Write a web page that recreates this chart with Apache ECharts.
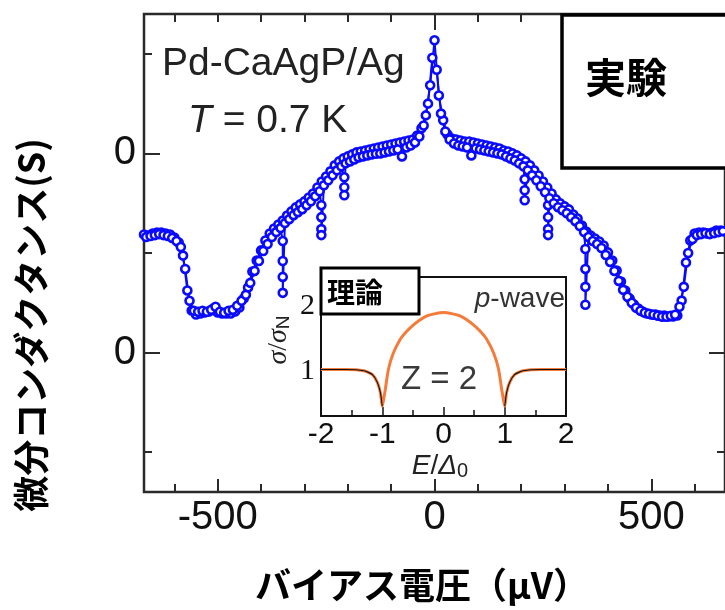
<!DOCTYPE html>
<html><head><meta charset="utf-8">
<script src="https://cdn.jsdelivr.net/npm/echarts@6/dist/echarts.min.js"></script>
<style>html,body{margin:0;padding:0;background:#fff}#c{width:725px;height:610px}</style>
</head><body><div id="c"></div>
<script>
// ---- main measurement: bias voltage (µV) vs differential conductance ----
const biasA = [-670,-660,-650,-640,-630,-620,-610,-600,-590,-580,-570,-560,-550,-540,-530,-520,-510,-500,-490,-480,-470,-460,-450,-440,-430,-420,-410,-400,-390,-380,-370,-360,-350,-340,-330,-320,-310,-300,-290,-280,-270,-260,-250,-240,-230,-220,-210,-200,-190,-180,-170,-160,-150,-140,-130,-120,-110,-100,-90,-80,-70,-60,-50,-40,-30,-20,-10,0,10,20,30,40,50,60,70,80,90,100,110,120,130,140,150,160,170,180,190,200,210,220,230,240,250,260,270,280,290,300,310,320,330,340,350,360,370,380,390,400,410,420,430,440,450,460,470,480,490,500,510,520,530,540,550,560,570,580,590,600,610,620,630,640,650,660,670];
const condA = [1.593,1.588,1.598,1.603,1.603,1.598,1.593,1.578,1.553,1.487,1.312,1.211,1.191,1.196,1.201,1.206,1.221,1.201,1.196,1.196,1.196,1.206,1.226,1.271,1.327,1.407,1.462,1.513,1.563,1.598,1.623,1.643,1.663,1.688,1.709,1.729,1.744,1.759,1.779,1.799,1.829,1.859,1.884,1.910,1.940,1.960,1.975,1.985,1.995,2.005,2.010,2.015,2.020,2.025,2.030,2.035,2.040,2.045,2.050,2.055,2.060,2.065,2.070,2.090,2.126,2.191,2.342,2.568,2.291,2.166,2.095,2.075,2.070,2.065,2.060,2.060,2.055,2.050,2.045,2.040,2.035,2.030,2.025,2.015,2.010,2.000,1.990,1.975,1.960,1.940,1.915,1.889,1.859,1.829,1.799,1.769,1.749,1.734,1.719,1.693,1.673,1.638,1.608,1.588,1.573,1.558,1.538,1.503,1.462,1.412,1.357,1.312,1.271,1.241,1.221,1.206,1.196,1.191,1.191,1.186,1.186,1.181,1.181,1.186,1.261,1.452,1.563,1.598,1.603,1.603,1.598,1.603,1.613,1.613,1.608];
const biasB = [-665,-655,-645,-635,-625,-615,-605,-595,-585,-575,-565,-555,-545,-535,-525,-515,-505,-495,-485,-475,-465,-455,-445,-435,-425,-415,-405,-395,-385,-375,-365,-355,-350,-350,-350,-350,-345,-335,-325,-315,-305,-295,-285,-275,-265,-261,-261,-261,-261,-255,-245,-235,-225,-215,-208,-208,-208,-205,-195,-185,-175,-165,-155,-145,-135,-125,-115,-105,-95,-85,-75,-65,-55,-45,-35,-25,-15,-5,5,15,25,35,45,55,65,75,85,95,105,115,125,135,145,155,165,175,185,195,205,208,208,208,215,225,235,245,255,262,262,262,262,265,275,285,295,305,315,325,335,345,348,348,348,348,355,365,375,385,395,405,415,425,435,445,455,465,475,485,495,505,515,525,535,545,555,565,575,585,595,605,615,625,635,645,655,665];
const condB = [1.580,1.585,1.590,1.595,1.590,1.585,1.575,1.560,1.530,1.420,1.260,1.210,1.205,1.210,1.205,1.215,1.230,1.205,1.200,1.210,1.215,1.235,1.260,1.290,1.350,1.410,1.460,1.510,1.545,1.580,1.605,1.625,1.560,1.460,1.380,1.300,1.650,1.670,1.690,1.705,1.720,1.740,1.760,1.785,1.810,1.740,1.680,1.620,1.590,1.840,1.865,1.890,1.915,1.935,1.880,1.830,1.790,1.950,1.960,1.970,1.980,1.985,1.990,1.995,1.998,2.000,2.005,2.010,2.015,2.020,1.985,2.030,2.040,2.055,2.085,2.140,2.250,2.480,2.420,2.200,2.110,2.070,2.050,2.040,2.035,2.030,1.990,2.025,2.020,2.015,2.010,2.005,2.000,1.995,1.985,1.975,1.965,1.950,1.935,1.870,1.815,1.765,1.915,1.890,1.865,1.835,1.805,1.740,1.680,1.620,1.590,1.775,1.750,1.730,1.715,1.700,1.680,1.660,1.635,1.605,1.520,1.420,1.330,1.240,1.580,1.560,1.545,1.525,1.490,1.455,1.410,1.360,1.315,1.280,1.250,1.225,1.210,1.200,1.195,1.190,1.185,1.180,1.180,1.185,1.190,1.230,1.330,1.500,1.570,1.590,1.595,1.600,1.595,1.600,1.605,1.610];

// ---- inset: theory, p-wave, Z = 2 ----
const insetE = [-2,-1.6,-1.3,-1.16,-1.08,-1.03,-1.0,-0.97,-0.95,-0.9,-0.82,-0.71,-0.6,-0.49,-0.38,-0.27,-0.15,0,0.15,0.27,0.38,0.49,0.6,0.71,0.82,0.9,0.95,0.97,1.0,1.03,1.08,1.16,1.3,1.6,2];
const insetSigma = [1.02,1.02,1.0,0.94,0.82,0.66,0.45,0.6,0.71,1.02,1.27,1.48,1.61,1.71,1.79,1.85,1.88,1.90,1.88,1.85,1.79,1.71,1.61,1.48,1.27,1.02,0.71,0.6,0.45,0.66,0.82,0.94,1.0,1.02,1.02];

// ---- ticks & labels ----
const xMajorTicks = [-500, 0, 500];
const xMinorTicks = [-600,-400,-300,-200,-100,100,200,300,400,600];
const xTopMajor = [0];
const xTopMinor = [-600,-500,-400,-300,-200,-100,100,200,300,400,500,600];
const yMajorTicks = [1, 2];
const yMinorTicks = [0.5, 1.5, 2.5];
const yTickText = ['0', '0'];
const insetXTicks = [-2,-1,0,1,2];
const insetXMinor = [-1.5,-0.5,0.5,1.5];
const insetYTicks = [1, 2];

const BLUE = '#0a0aff';
const ORANGE = '#f47b3a';
const AX = '#2a2a2a';
const SANS = '"Liberation Sans", Arial, sans-serif';
const SERIF = '"Liberation Serif", "Times New Roman", serif';
const CJK = '"Noto Sans CJK JP", sans-serif';

const zip = (xs, ys) => xs.map((x, i) => [x, ys[i]]);
const chart = echarts.init(document.getElementById('c'), null, {renderer: 'canvas'});

function tickAxis(extra) {
  return Object.assign({
    type: 'value', splitLine: {show: false},
    axisLine: {show: false, onZero: false},
    axisLabel: {show: false}
  }, extra);
}

const insetData = zip(insetE, insetSigma);
const insetOuter = insetData.map(p => (Math.abs(p[0]) >= 1 ? p : [p[0], null]));

chart.setOption({
  animation: false,
  backgroundColor: '#fff',
  grid: [
    {left: 144, top: 14, width: 586, height: 478, show: true, borderColor: AX, borderWidth: 2.5, backgroundColor: 'transparent'},
    {left: 321, top: 277, width: 245, height: 139, show: true, borderColor: '#111', borderWidth: 2, backgroundColor: '#fff'}
  ],
  xAxis: [
    tickAxis({gridIndex: 0, position: 'bottom', min: -670, max: 670,
      axisTick: {inside: true, length: 13, customValues: xMajorTicks, lineStyle: {color: AX, width: 2}},
      axisLabel: {show: true, customValues: xMajorTicks, fontSize: 40, fontFamily: SANS, color: '#111', margin: 6}}),
    tickAxis({gridIndex: 0, position: 'bottom', min: -670, max: 670,
      axisTick: {inside: true, length: 8, customValues: xMinorTicks, lineStyle: {color: AX, width: 2}}}),
    tickAxis({gridIndex: 0, position: 'top', min: -670, max: 670,
      axisTick: {inside: true, length: 16, customValues: xTopMajor, lineStyle: {color: AX, width: 2}}}),
    tickAxis({gridIndex: 0, position: 'top', min: -670, max: 670,
      axisTick: {inside: true, length: 8, customValues: xTopMinor, lineStyle: {color: AX, width: 2}}}),
    tickAxis({gridIndex: 1, position: 'bottom', min: -2, max: 2,
      axisTick: {inside: true, length: 9, customValues: insetXTicks, lineStyle: {color: '#111', width: 1.5}},
      axisLabel: {show: true, customValues: insetXTicks, fontSize: 30, fontFamily: SANS, color: '#111', margin: 4}}),
    tickAxis({gridIndex: 1, position: 'bottom', min: -2, max: 2,
      axisTick: {inside: true, length: 6, customValues: insetXMinor, lineStyle: {color: '#111', width: 1.5}}})
  ],
  yAxis: [
    tickAxis({gridIndex: 0, position: 'left', min: 0.3, max: 2.7,
      axisTick: {inside: true, length: 16, customValues: yMajorTicks, lineStyle: {color: AX, width: 2}},
      axisLabel: {show: true, customValues: yMajorTicks, fontSize: 40, fontFamily: SANS, color: '#111', margin: 8,
        formatter: v => yTickText[yMajorTicks.indexOf(v)] || ''}}),
    tickAxis({gridIndex: 0, position: 'left', min: 0.3, max: 2.7,
      axisTick: {inside: true, length: 8, customValues: yMinorTicks, lineStyle: {color: AX, width: 2}}}),
    tickAxis({gridIndex: 0, position: 'right', min: 0.3, max: 2.7,
      axisTick: {inside: true, length: 16, customValues: yMajorTicks, lineStyle: {color: AX, width: 2}}}),
    tickAxis({gridIndex: 0, position: 'right', min: 0.3, max: 2.7,
      axisTick: {inside: true, length: 8, customValues: yMinorTicks, lineStyle: {color: AX, width: 2}}}),
    tickAxis({gridIndex: 1, position: 'left', min: 0.3, max: 2.45,
      axisTick: {show: false},
      axisLabel: {show: true, customValues: insetYTicks, fontSize: 30, fontFamily: SERIF, color: '#111', margin: 6}})
  ],
  series: [
    {type: 'line', xAxisIndex: 0, yAxisIndex: 0, data: zip(biasA, condA), symbol: 'circle', symbolSize: 8,
      itemStyle: {color: '#fff', borderColor: BLUE, borderWidth: 2.6}, lineStyle: {color: BLUE, width: 2}, z: 3},
    {type: 'line', xAxisIndex: 0, yAxisIndex: 0, data: zip(biasB, condB), symbol: 'circle', symbolSize: 8,
      itemStyle: {color: '#fff', borderColor: BLUE, borderWidth: 2.6}, lineStyle: {color: BLUE, width: 2}, z: 3},
    {type: 'line', xAxisIndex: 4, yAxisIndex: 4, data: insetData, showSymbol: false, smooth: 0.2,
      lineStyle: {color: ORANGE, width: 3}, z: 10},
    {type: 'line', xAxisIndex: 4, yAxisIndex: 4, data: insetOuter, showSymbol: false, smooth: 0.2, connectNulls: false,
      lineStyle: {color: '#111', width: 1.1}, z: 11}
  ],
  graphic: [
    {type: 'text', x: 162, y: 64, z: 50, style: {text: 'Pd-CaAgP/Ag', fontSize: 39, fontFamily: SANS, fill: '#222', align: 'left', verticalAlign: 'middle'}},
    {type: 'text', x: 188, y: 121, z: 50, style: {text: '{i|T} = 0.7 K', fontSize: 39, fontFamily: SANS, fill: '#222', align: 'left', verticalAlign: 'middle',
      rich: {i: {fontStyle: 'italic', fontSize: 39, fontFamily: SANS, fill: '#222'}}}},
    {type: 'rect', z: 60, shape: {x: 562, y: 15, width: 175, height: 153}, style: {fill: '#fff', stroke: '#000', lineWidth: 3.5}},
    {type: 'text', x: 626, y: 77, z: 61, style: {text: '実験', fontSize: 41, fontWeight: 'bold', fontFamily: CJK, fill: '#000', align: 'center', verticalAlign: 'middle'}},
    {type: 'rect', z: 60, shape: {x: 321, y: 268, width: 98, height: 46}, style: {fill: '#fff', stroke: '#000', lineWidth: 3}},
    {type: 'text', x: 355, y: 292, z: 61, style: {text: '理論', fontSize: 28, fontWeight: 'bold', fontFamily: CJK, fill: '#000', align: 'center', verticalAlign: 'middle'}},
    {type: 'text', x: 565, y: 299, z: 61, style: {text: '{i|p}-wave', fontSize: 28, fontFamily: SANS, fill: '#333', align: 'right', verticalAlign: 'middle',
      rich: {i: {fontStyle: 'italic', fontSize: 28, fontFamily: SANS, fill: '#333'}}}},
    {type: 'text', x: 439, y: 380, z: 61, style: {text: 'Z = 2', fontSize: 33, fontFamily: SANS, fill: '#3a3a3a', align: 'center', verticalAlign: 'middle'}},
    {type: 'text', x: 440, y: 466, z: 61, style: {text: '{i|E}/{i|Δ}{s|0}', fontSize: 28, fontFamily: SANS, fill: '#222', align: 'center', verticalAlign: 'middle',
      rich: {i: {fontStyle: 'italic', fontSize: 28, fontFamily: SANS, fill: '#222'}, s: {fontSize: 20, fontFamily: SANS, fill: '#222', padding: [10, 0, 0, 0]}}}},
    {type: 'text', x: 279, y: 340, rotation: Math.PI / 2, z: 61, style: {text: '{i|σ}/{i|σ}{s|N}', fontSize: 28, fontFamily: SERIF, fill: '#222', align: 'center', verticalAlign: 'middle',
      rich: {i: {fontStyle: 'italic', fontSize: 28, fontFamily: SERIF, fill: '#222'}, s: {fontSize: 19, fontFamily: SANS, fill: '#222', padding: [10, 0, 0, 0]}}}},
    {type: 'text', x: 31, y: 325, rotation: Math.PI / 2, z: 61, style: {text: '微分コンダクタンス(S)', fontSize: 36, fontWeight: 'bold', fontFamily: CJK, fill: '#000', align: 'center', verticalAlign: 'middle'}},
    {type: 'text', x: 422, y: 585, z: 61, style: {text: 'バイアス電圧（μV）', fontSize: 36, fontWeight: 'bold', fontFamily: CJK, fill: '#000', align: 'center', verticalAlign: 'middle'}}
  ]
});
</script></body></html>
